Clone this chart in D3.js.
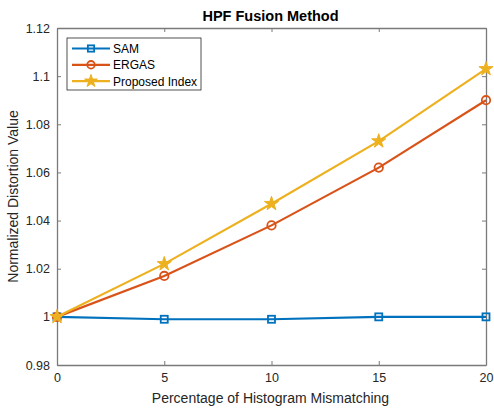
<!DOCTYPE html>
<html><head><meta charset="utf-8">
<script src="https://cdn.jsdelivr.net/npm/d3@7"></script>
<style>body{margin:0;background:#fff;}svg{display:block;font-family:Arial,"Liberation Sans",sans-serif;}</style>
</head><body>
<script>
const xValues = [0, 5, 10, 15, 20];
const samValues = [1.000, 0.999, 0.999, 1.000, 1.000];
const ergasValues = [1.000, 1.017, 1.038, 1.062, 1.090];
const proposedValues = [1.000, 1.022, 1.047, 1.073, 1.103];
const yTicks = [0.98, 1, 1.02, 1.04, 1.06, 1.08, 1.1, 1.12];
const xTicks = [0, 5, 10, 15, 20];
const seriesNames = ["SAM", "ERGAS", "Proposed Index"];
const seriesColors = ["#0072BD", "#D95319", "#EDB120"];
const seriesMarkers = ["square", "circle", "star"];
const titleText = "HPF Fusion Method";
const xLabel = "Percentage of Histogram Mismatching";
const yLabel = "Normalized Distortion Value";

const W = 494, H = 410;
const m = {left: 57, right: 8, top: 28, bottom: 45};
const svg = d3.select("body").append("svg").attr("width", W).attr("height", H);
const iw = W - m.left - m.right, ih = H - m.top - m.bottom;
const x = d3.scaleLinear().domain([0, 20]).range([m.left, m.left + iw]);
const y = d3.scaleLinear().domain([0.98, 1.12]).range([m.top + ih, m.top]);
const axisColor = "#262626";
const fmt = d => String(+d.toFixed(2));

const tickLen = 4;
const gx = svg.append("g").attr("transform", `translate(0,${m.top + ih})`)
  .call(d3.axisBottom(x).tickValues(xTicks).tickFormat(fmt).tickSizeInner(-tickLen).tickSizeOuter(0).tickPadding(8));
const gxt = svg.append("g").attr("transform", `translate(0,${m.top})`)
  .call(d3.axisTop(x).tickValues(xTicks).tickFormat("").tickSizeInner(-tickLen).tickSizeOuter(0));
const gy = svg.append("g").attr("transform", `translate(${m.left},0)`)
  .call(d3.axisLeft(y).tickValues(yTicks).tickFormat(fmt).tickSizeInner(-tickLen).tickSizeOuter(0).tickPadding(7));
const gyr = svg.append("g").attr("transform", `translate(${m.left + iw},0)`)
  .call(d3.axisRight(y).tickValues(yTicks).tickFormat("").tickSizeInner(-tickLen).tickSizeOuter(0));
[gx, gxt, gy, gyr].forEach(g => {
  g.selectAll("path").attr("stroke", "#7a7a7a").attr("stroke-width", 1.3);
  g.selectAll("line").attr("stroke", "#7a7a7a");
  g.selectAll("text").attr("fill", axisColor).style("font-size", "12.5px");
});

const allSeries = [samValues, ergasValues, proposedValues];
const line = d3.line().x((d, i) => x(xValues[i])).y(d => y(d));

function drawMarker(g, type, color, cx, cy, scale) {
  if (type === "square") {
    g.append("rect").attr("x", cx - 3.5 * scale).attr("y", cy - 3.5 * scale).attr("width", 7 * scale).attr("height", 7 * scale)
      .attr("fill", "none").attr("stroke", color).attr("stroke-width", 1.8);
  } else if (type === "circle") {
    g.append("circle").attr("cx", cx).attr("cy", cy).attr("r", 4.2 * scale)
      .attr("fill", "none").attr("stroke", color).attr("stroke-width", 1.8);
  } else {
    g.append("path").attr("d", d3.symbol().type(d3.symbolStar).size(62 * scale * scale)()).attr("transform", `translate(${cx},${cy})`)
      .attr("fill", color).attr("stroke", color).attr("stroke-width", 1);
  }
}

const plot = svg.append("g");
allSeries.forEach((vals, si) => {
  const g = plot.append("g");
  g.append("path").datum(vals).attr("d", line).attr("fill", "none")
    .attr("stroke", seriesColors[si]).attr("stroke-width", 2.2);
  vals.forEach((v, i) => drawMarker(g, seriesMarkers[si], seriesColors[si], x(xValues[i]), y(v), 1));
});

svg.append("text").attr("x", m.left + iw / 2 - 1).attr("y", 21).attr("text-anchor", "middle")
  .style("font-size", "14.5px").style("font-weight", "bold").attr("fill", "#000").text(titleText);
svg.append("text").attr("x", m.left + iw / 2 - 1).attr("y", 403).attr("text-anchor", "middle")
  .style("font-size", "14px").attr("fill", axisColor).text(xLabel);
svg.append("text").attr("transform", `translate(18,${m.top + ih / 2}) rotate(-90)`).attr("text-anchor", "middle")
  .style("font-size", "14px").attr("fill", axisColor).text(yLabel);

const lg = svg.append("g");
lg.append("rect").attr("x", 67).attr("y", 38).attr("width", 134).attr("height", 52)
  .attr("fill", "#fff").attr("stroke", "#262626").attr("stroke-width", 0.8);
seriesNames.forEach((name, i) => {
  const ly = 48.5 + i * 16.3;
  lg.append("line").attr("x1", 72).attr("x2", 110).attr("y1", ly).attr("y2", ly)
    .attr("stroke", seriesColors[i]).attr("stroke-width", 2.2);
  drawMarker(lg, seriesMarkers[i], seriesColors[i], 91, ly, 0.9);
  lg.append("text").attr("x", 113).attr("y", ly + 4.5).style("font-size", "12px").attr("fill", "#000").text(name);
});
</script>
</body></html>
